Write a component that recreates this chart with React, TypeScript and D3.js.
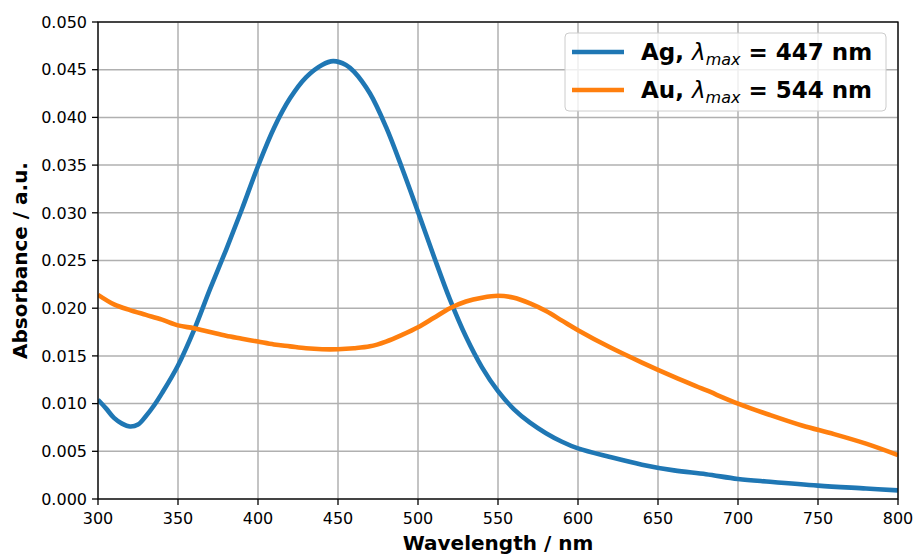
import React from "react";
import * as d3 from "d3";

const agWavelength = [300, 305, 310, 315, 320, 325, 330, 335, 340, 350, 360, 370, 380, 390, 400, 410, 420, 430, 440, 447, 455, 460, 470, 480, 490, 500, 510, 520, 530, 540, 550, 560, 570, 580, 590, 600, 620, 640, 660, 680, 700, 720, 750, 780, 800];
const agAbsorbance = [0.0104, 0.0095, 0.0085, 0.0079, 0.0076, 0.0078, 0.0087, 0.0098, 0.0111, 0.0140, 0.0177, 0.0220, 0.0261, 0.0304, 0.0349, 0.0389, 0.0420, 0.0442, 0.0455, 0.0459, 0.0455, 0.0448, 0.0425, 0.0390, 0.0347, 0.0301, 0.0254, 0.0209, 0.0170, 0.0138, 0.0113, 0.0094, 0.0080, 0.0069, 0.0060, 0.0053, 0.0044, 0.0036, 0.0030, 0.0026, 0.0021, 0.0018, 0.0014, 0.0011, 0.0009];

const auWavelength = [300, 310, 320, 330, 340, 350, 360, 370, 380, 390, 400, 410, 420, 430, 440, 450, 460, 470, 480, 490, 500, 510, 520, 530, 540, 550, 560, 570, 580, 590, 600, 620, 640, 660, 680, 700, 720, 740, 760, 780, 800];
const auAbsorbance = [0.0214, 0.0204, 0.0198, 0.0193, 0.0188, 0.0182, 0.0179, 0.0175, 0.0171, 0.0168, 0.0165, 0.0162, 0.0160, 0.0158, 0.0157, 0.0157, 0.0158, 0.0160, 0.0165, 0.0172, 0.0180, 0.0190, 0.0200, 0.0207, 0.0211, 0.0213, 0.0211, 0.0205, 0.0197, 0.0187, 0.0177, 0.0159, 0.0143, 0.0128, 0.0114, 0.0100, 0.0088, 0.0077, 0.0068, 0.0058, 0.0046];

const xTicks = [300, 350, 400, 450, 500, 550, 600, 650, 700, 750, 800];
const yTicks = [0, 0.005, 0.01, 0.015, 0.02, 0.025, 0.03, 0.035, 0.04, 0.045, 0.05];

const series = [
  { name: "Ag", lmax: "447", color: "#1f77b4", xs: agWavelength, ys: agAbsorbance },
  { name: "Au", lmax: "544", color: "#ff7f0e", xs: auWavelength, ys: auAbsorbance },
];

const W = 914, H = 554;
const left = 98, right = 898, top = 22, bottom = 499;
const font = "DejaVu Sans, sans-serif";

export default function App() {
  const x = d3.scaleLinear().domain([300, 800]).range([left, right]);
  const y = d3.scaleLinear().domain([0, 0.05]).range([bottom, top]);
  const line = d3
    .line<[number, number]>()
    .x((d) => x(d[0]))
    .y((d) => y(d[1]))
    .curve(d3.curveCatmullRom.alpha(0.5));

  return (
    <svg width={W} height={H} style={{ position: "absolute", left: 0, top: 0 }} fontFamily={font}>
      <rect x={0} y={0} width={W} height={H} fill="#fff" />
      <defs>
        <clipPath id="plot">
          <rect x={left} y={top} width={right - left} height={bottom - top} />
        </clipPath>
      </defs>
      {xTicks.map((t) => (
        <line key={"gx" + t} x1={x(t)} x2={x(t)} y1={top} y2={bottom} stroke="#b0b0b0" strokeWidth={1.5} />
      ))}
      {yTicks.map((t) => (
        <line key={"gy" + t} x1={left} x2={right} y1={y(t)} y2={y(t)} stroke="#b0b0b0" strokeWidth={1.5} />
      ))}
      <g clipPath="url(#plot)">
        {series.map((s) => (
          <path
            key={s.name}
            d={line(s.xs.map((v, i) => [v, s.ys[i]] as [number, number])) || ""}
            fill="none"
            stroke={s.color}
            strokeWidth={4.6}
            strokeLinejoin="round"
            strokeLinecap="butt"
          />
        ))}
      </g>
      <rect x={left} y={top} width={right - left} height={bottom - top} fill="none" stroke="#000" strokeWidth={1.3} />
      {xTicks.map((t) => (
        <g key={"tx" + t}>
          <line x1={x(t)} x2={x(t)} y1={bottom} y2={bottom + 6} stroke="#000" strokeWidth={1.3} />
          <text x={x(t)} y={bottom + 25} textAnchor="middle" fontSize={16}>
            {t}
          </text>
        </g>
      ))}
      {yTicks.map((t) => (
        <g key={"ty" + t}>
          <line x1={left - 6} x2={left} y1={y(t)} y2={y(t)} stroke="#000" strokeWidth={1.3} />
          <text x={left - 11} y={y(t)} dy="0.36em" textAnchor="end" fontSize={16}>
            {t.toFixed(3)}
          </text>
        </g>
      ))}
      <text x={(left + right) / 2} y={550} textAnchor="middle" fontSize={20} fontWeight="bold">
        Wavelength / nm
      </text>
      <text
        transform={`translate(27,${(top + bottom) / 2}) rotate(-90)`}
        textAnchor="middle"
        fontSize={20}
        fontWeight="bold"
      >
        Absorbance / a.u.
      </text>
      <g>
        <rect x={565} y={33} width={321} height={78} rx={4} fill="#fff" fillOpacity={0.8} stroke="#cccccc" strokeWidth={1} />
        {series.map((s, i) => {
          const cy = 52 + i * 38;
          return (
            <g key={"lg" + s.name}>
              <line x1={572} x2={624} y1={cy} y2={cy} stroke={s.color} strokeWidth={4.6} />
              <text x={641} y={cy + 8} fontSize={23} fontWeight="bold">
                <tspan>{s.name + ", "}</tspan>
                <tspan fontStyle="italic" fontWeight="normal">λ</tspan>
                <tspan fontStyle="italic" fontWeight="normal" fontSize={16} dy={5}>max</tspan>
                <tspan dy={-5}>{" = " + s.lmax + " nm"}</tspan>
              </text>
            </g>
          );
        })}
      </g>
    </svg>
  );
}
